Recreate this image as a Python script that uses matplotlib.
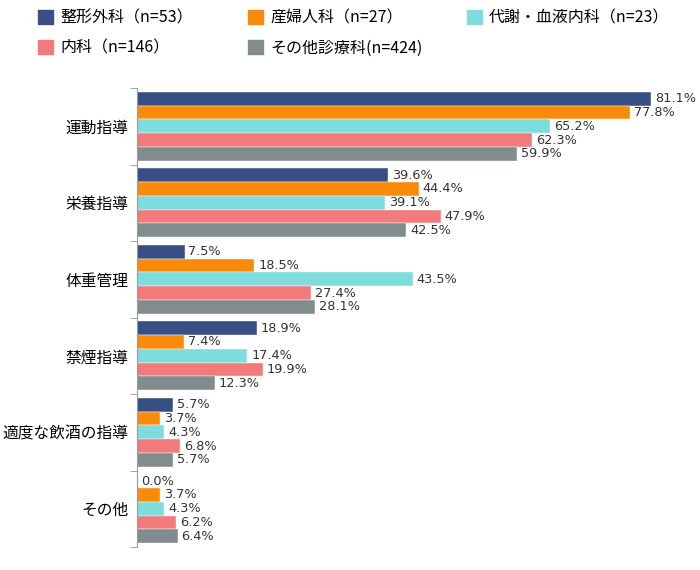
import numpy as np
import matplotlib.pyplot as plt
from matplotlib.patches import Patch

plt.rcParams['font.family'] = ['Noto Sans CJK JP', 'DejaVu Sans']

categories = ["運動指導", "栄養指導", "体重管理", "禁煙指導", "適度な飲酒の指導", "その他"]
series_labels = ["整形外科（n=53）", "産婦人科（n=27）", "代謝・血液内科（n=23）",
                 "内科（n=146）", "その他診療科(n=424)"]
values = [
    [81.1, 39.6, 7.5, 18.9, 5.7, 0.0],
    [77.8, 44.4, 18.5, 7.4, 3.7, 3.7],
    [65.2, 39.1, 43.5, 17.4, 4.3, 4.3],
    [62.3, 47.9, 27.4, 19.9, 6.8, 6.2],
    [59.9, 42.5, 28.1, 12.3, 5.7, 6.4],
]
colors = ["#374F84", "#F98A0A", "#7FDCDC", "#F27A7A", "#808C8E"]

fig = plt.figure(figsize=(7, 5.7), dpi=100)
ax = fig.add_axes([137/700, 1-547/570, (695-137)/700, (547-88)/570])

n = len(series_labels)
bh = 0.18
y = np.arange(len(categories))
for i in range(n):
    pos = y - 0.45 + bh/2 + i*bh
    ax.barh(pos, values[i], height=bh, color=colors[i], edgecolor='white', linewidth=0.3)
    for p, v in zip(pos, values[i]):
        ax.text(v + 0.6, p, f"{v:.1f}%", va='center', ha='left', fontsize=9.3,
                family='DejaVu Sans', color='#333333')

ax.set_xlim(0, 88)
ax.set_ylim(len(categories)-0.5, -0.5)
ax.set_xticks([])
ax.set_yticks(y)
ax.set_yticklabels(categories, fontsize=11.3)
ax.tick_params(axis='y', which='major', length=0, pad=6)
ax.set_yticks(np.arange(-0.5, len(categories)), minor=True)
ax.tick_params(axis='y', which='minor', length=5, color='#999999')
for s in ['top', 'right', 'bottom']:
    ax.spines[s].set_visible(False)
ax.spines['left'].set_color('#999999')

# legend entries placed one by one, like the original layout
legend_xy = [(38, 18), (248, 18), (467, 18), (38, 48), (248, 48)]
for k in range(n):
    lx, ly = legend_xy[k]
    fig.legend([Patch(color=colors[k])], [series_labels[k]], loc='center left',
               bbox_to_anchor=(lx/700, 1-ly/570), frameon=False, fontsize=11.5,
               handlelength=0.94, handleheight=0.94, handletextpad=0.45,
               borderpad=0, borderaxespad=0)

fig.savefig("out.png", dpi=100)
